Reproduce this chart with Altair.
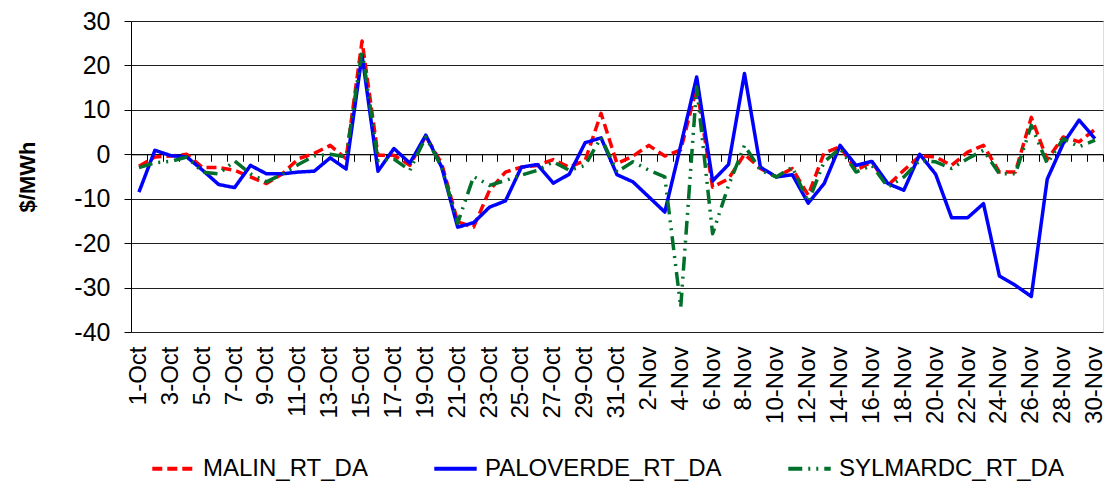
import altair as alt
import pandas as pd

dates = [f"{d}-Oct" for d in range(1, 32)] + [f"{d}-Nov" for d in range(1, 31)]

series_names = ["MALIN_RT_DA", "PALOVERDE_RT_DA", "SYLMARDC_RT_DA"]
series_colors = ["#FF0000", "#0000FF", "#00702A"]
series_dashes = [[10, 5], [1, 0], [14, 6, 2, 6, 2, 6]]

malin = [-2.7, -0.6, -0.4, 0.0, -3.0, -3.0, -3.6, -5.1, -6.6, -4.4, -1.0, 0.2, 2.0, -1.0, 25.5,
         -0.2, -0.2, -2.5, 4.1, -2.1, -15.2, -16.4, -8.1, -4.0, -2.9, -2.5, -1.2, -2.9, -1.4, 9.2,
         -2.1, -0.4, 2.0, -0.4, 1.0, 15.0, -7.4, -5.5, 0.0, -3.2, -5.1, -3.2, -9.2, 0.3, 1.7,
         -3.6, -1.7, -7.0, -3.6, -0.4, -0.6, -2.5, 0.5, 2.0, -4.0, -4.0, 8.3, -1.2, 3.9, 2.8, 5.6]
paloverde = [-8.5, 0.9, -0.3, -0.6, -3.6, -6.8, -7.5, -2.5, -4.4, -4.4, -4.0, -3.8, -0.8, -3.3, 22.3,
             -3.8, 1.3, -2.0, 4.3, -2.9, -16.4, -15.4, -11.9, -10.5, -2.9, -2.3, -6.5, -4.5, 2.6, 3.7,
             -4.6, -6.2, -9.6, -13.0, 2.0, 17.4, -6.0, -2.3, 18.2, -2.9, -5.1, -4.6, -11.0, -6.6, 2.0,
             -2.5, -1.6, -6.6, -8.1, 0.0, -4.5, -14.3, -14.3, -11.1, -27.4, -29.5, -32.0, -5.6, 2.4, 7.7, 3.5]
sylmardc = [-3.0, -1.9, -1.6, -0.6, -4.0, -4.4, -1.5, -4.4, -6.2, -4.5, -2.3, -0.4, 0.0, -0.6, 23.5,
            -1.4, -1.1, -3.6, 3.9, -2.9, -15.5, -5.0, -7.0, -5.9, -4.7, -3.6, -1.7, -3.6, -2.5, 3.8,
            -4.0, -1.7, -3.6, -5.1, -34.4, 15.2, -17.9, -7.0, 2.0, -3.6, -5.1, -2.9, -10.7, -1.7, 1.3,
            -4.0, -2.5, -7.4, -5.1, -1.4, -1.7, -3.2, -1.0, 0.9, -4.4, -4.4, 6.5, -2.1, 3.5, 1.7, 3.2]

y_ticks = [-40, -30, -20, -10, 0, 10, 20, 30]

rows = []
for name, vals in zip(series_names, [malin, paloverde, sylmardc]):
    for d, v in zip(dates, vals):
        rows.append({"date": d, "series": name, "value": v})
df = pd.DataFrame(rows)

FONT = "Liberation Sans"
xscale = alt.Scale(type="band", paddingInner=0, paddingOuter=0, domain=dates)
yscale = alt.Scale(domain=[-40, 30], nice=False, zero=False)

legend_kw = dict(title=None, orient="none", direction="horizontal",
                 legendX=19, legendY=424, symbolType="stroke",
                 symbolSize=1800, symbolStrokeWidth=4, labelFontSize=24,
                 labelFont=FONT, labelColor="black", columnPadding=58,
                 labelOffset=6, labelLimit=400)

lines = alt.Chart(df).mark_line(strokeWidth=3.5, strokeCap="butt", strokeJoin="round").encode(
    x=alt.X("date:N", sort=dates, scale=xscale, bandPosition=0.5,
            axis=alt.Axis(orient="bottom", values=dates[::2], labelAngle=270, labelFontSize=24,
                          labelFont=FONT, labelColor="black", labelPadding=14, ticks=False,
                          domain=False, grid=False, title=None, labelOverlap=False)),
    y=alt.Y("value:Q", scale=yscale,
            axis=alt.Axis(values=y_ticks, labelExpr="'' + datum.value", labelFontSize=25,
                          labelFont=FONT, labelColor="black",
                          tickSize=7, tickColor="black", domainColor="black", labelPadding=14,
                          grid=True, gridColor="#202020", gridWidth=1,
                          title="$/MWh", titleFont=FONT, titleFontSize=22, titleFontWeight="bold",
                          titleColor="black", titlePadding=34)),
    color=alt.Color("series:N", scale=alt.Scale(domain=series_names, range=series_colors),
                    legend=alt.Legend(**legend_kw)),
    strokeDash=alt.StrokeDash("series:N", scale=alt.Scale(domain=series_names, range=series_dashes),
                              legend=alt.Legend(**legend_kw)),
    detail="series:N",
)

ticks = alt.Chart(df).mark_point(opacity=0).encode(
    x=alt.X("date:N", sort=dates, scale=xscale, bandPosition=0.5,
            axis=alt.Axis(orient="bottom", offset=-177.7, labels=False, domain=True,
                          domainColor="black", ticks=True, tickBand="extent", tickSize=7,
                          tickColor="black", grid=False, title=None)),
    y=alt.Y("value:Q", scale=yscale),
)

chart = alt.layer(lines, ticks).resolve_axis(x="independent").properties(
    width=972, height=311,
    autosize=alt.AutoSizeParams(type="none"),
    padding={"left": 123, "top": 13, "right": 3, "bottom": 151},
).configure_view(stroke="black", strokeWidth=1.2).configure(background="white")

chart.save("out.html", embed_options={"renderer": "svg", "actions": False})
